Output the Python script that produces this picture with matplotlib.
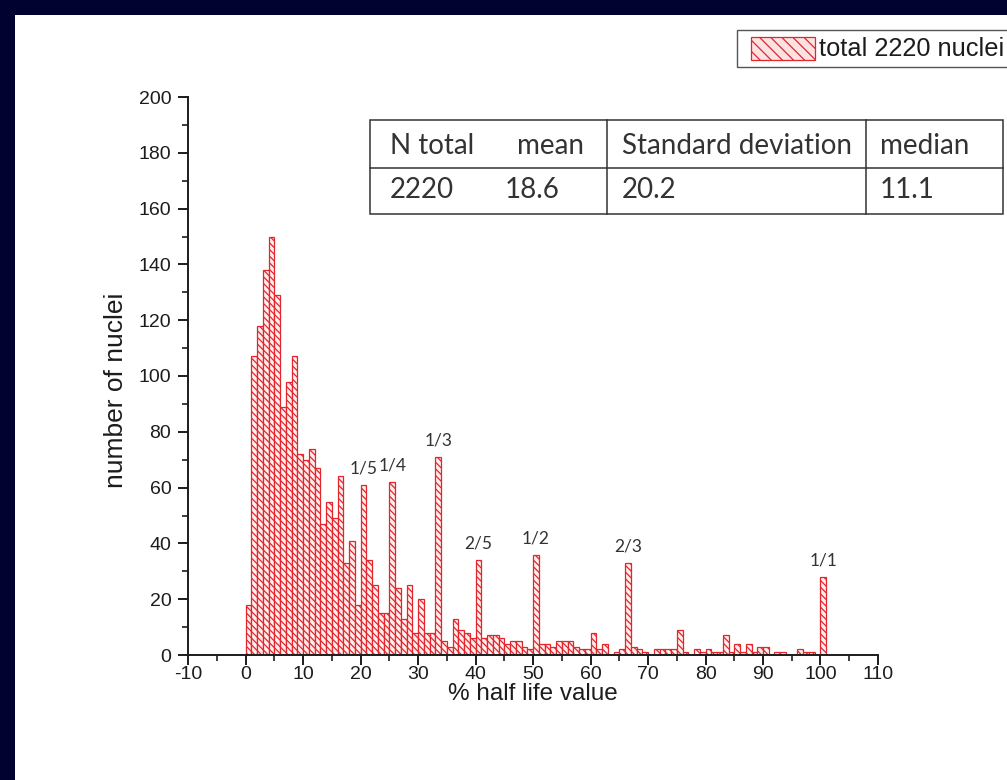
import matplotlib
matplotlib.use("Agg")
import matplotlib.pyplot as plt
from matplotlib.patches import Rectangle
from matplotlib.lines import Line2D
from matplotlib.ticker import MultipleLocator

# Histogram of nuclei by % half-life value, bins of width 1 starting at 0..100
bin_left = list(range(0, 101))
counts = [
    18, 107, 118, 138, 150, 129, 89, 98, 107, 72,      # 0-9
    70, 74, 67, 47, 55, 49, 64, 33, 41, 18,            # 10-19
    61, 34, 25, 15, 15, 62, 24, 13, 25, 8,             # 20-29
    20, 8, 8, 71, 5, 3, 13, 9, 8, 6,                   # 30-39
    34, 6, 7, 7, 6, 4, 5, 5, 3, 2,                     # 40-49
    36, 4, 4, 3, 5, 5, 5, 3, 2, 2,                     # 50-59
    8, 2, 4, 0, 1, 2, 33, 3, 2, 1,                     # 60-69
    0, 2, 2, 2, 2, 9, 1, 0, 2, 1,                      # 70-79
    2, 1, 1, 7, 1, 4, 1, 4, 1, 3,                      # 80-89
    3, 0, 1, 1, 0, 0, 2, 1, 1, 0,                      # 90-99
    28,                                                # 100
]

fraction_labels = ["1/5", "1/4", "1/3", "2/5", "1/2", "2/3", "1/1"]
fraction_bins = [20, 25, 33, 40, 50, 66, 100]

x_ticks = list(range(-10, 111, 10))
y_ticks = list(range(0, 201, 20))

table_header = ["N total", "mean", "Standard deviation", "median"]
table_values = ["2220", "18.6", "20.2", "11.1"]
legend_label = "total 2220 nuclei"

W, H = 1007, 780
RED = "#e3262d"
INK = "#1c1c1c"

plt.rcParams["axes.unicode_minus"] = False
plt.rcParams["hatch.linewidth"] = 0.9


def px(x, y):
    """Pixel position (from top-left) to figure fraction."""
    return x / W, 1 - y / H


fig = plt.figure(figsize=(W / 100, H / 100), dpi=100)
fig.patch.set_facecolor("white")

# dark frame along the top and left edges
fig.add_artist(Rectangle((0, 1 - 15 / H), 1, 15 / H, transform=fig.transFigure,
                         facecolor="#020230", edgecolor="none", zorder=0))
fig.add_artist(Rectangle((0, 0), 15 / W, 1, transform=fig.transFigure,
                         facecolor="#020230", edgecolor="none", zorder=0))

l, b = px(188, 655)
r, t = px(878, 97)
ax = fig.add_axes([l, b, r - l, t - b])
ax.bar(bin_left, counts, width=1, align="edge", facecolor="#fdeeee",
       edgecolor=RED, hatch="\\\\\\\\\\", linewidth=0.9)

ax.set_xlim(-10, 110)
ax.set_ylim(0, 200)
ax.set_xticks(x_ticks)
ax.set_yticks(y_ticks)
ax.xaxis.set_minor_locator(MultipleLocator(5))
ax.yaxis.set_minor_locator(MultipleLocator(10))
for side in ("top", "right"):
    ax.spines[side].set_visible(False)
for side in ("left", "bottom"):
    ax.spines[side].set_linewidth(1.4)
    ax.spines[side].set_color(INK)
ax.tick_params(which="major", length=7, width=1.4, direction="out",
               labelsize=14, colors=INK, labelcolor=INK)
ax.tick_params(axis="y", which="major", pad=5)
ax.tick_params(axis="x", which="major", pad=1)
ax.tick_params(which="minor", length=4, width=1.2, direction="out", colors=INK)
for lab in ax.get_xticklabels() + ax.get_yticklabels():
    lab.set_fontfamily("Liberation Sans")

ax.set_xlabel("% half life value", fontsize=17.5, family="Liberation Sans",
              color=INK, va="center")
ax.xaxis.set_label_coords(0.5, -0.069)
ax.set_ylabel("number of nuclei", fontsize=19, family="Liberation Sans",
              color=INK, va="center")
ax.yaxis.set_label_coords(-0.104, 0.475)

# ratio annotations above the prominent bars
for lab, bx in zip(fraction_labels, fraction_bins):
    ax.annotate(lab, (bx + 0.5, counts[bx]), xytext=(0, 6), textcoords="offset points",
                ha="center", va="bottom", fontsize=12.5, family="Lato", color="#333333")

# summary table
tl = px(370, 120)
br = px(1003, 214)
fig.add_artist(Rectangle((tl[0], br[1]), br[0] - tl[0], tl[1] - br[1],
                         transform=fig.transFigure, facecolor="white",
                         edgecolor="#333333", linewidth=1.1, zorder=5))
mid_y = px(0, 168)[1]
fig.add_artist(Line2D([tl[0], br[0]], [mid_y, mid_y], transform=fig.transFigure,
                      color="#333333", linewidth=1.1, zorder=6))
for xv in (607, 866):
    fx = px(xv, 0)[0]
    fig.add_artist(Line2D([fx, fx], [br[1], tl[1]], transform=fig.transFigure,
                          color="#333333", linewidth=1.1, zorder=6))

header_x = [390, 517, 622, 880]
value_x = [390, 505, 622, 880]
for txt, xv in zip(table_header, header_x):
    fx, fy = px(xv, 146)
    fig.text(fx, fy, txt, ha="left", va="center", fontsize=20, family="Lato",
             color="#333333", zorder=7)
for txt, xv in zip(table_values, value_x):
    fx, fy = px(xv, 190)
    fig.text(fx, fy, txt, ha="left", va="center", fontsize=20, family="Lato",
             color="#333333", zorder=7)

# legend box
lg0 = px(737, 30)
lg1 = px(1012, 67)
fig.add_artist(Rectangle((lg0[0], lg1[1]), lg1[0] - lg0[0], lg0[1] - lg1[1],
                         transform=fig.transFigure, facecolor="white",
                         edgecolor="#555555", linewidth=1.0, zorder=5))
p0 = px(751, 37)
p1 = px(815, 60)
fig.add_artist(Rectangle((p0[0], p1[1]), p1[0] - p0[0], p0[1] - p1[1],
                         transform=fig.transFigure, facecolor="#fbe3e3",
                         edgecolor=RED, hatch="\\\\\\", linewidth=0.9, zorder=6))
fx, fy = px(819, 49)
fig.text(fx, fy, legend_label, ha="left", va="center", fontsize=18.3,
         family="Liberation Sans", color=INK, zorder=7)

fig.savefig("out.png", dpi=100, facecolor=fig.get_facecolor())
